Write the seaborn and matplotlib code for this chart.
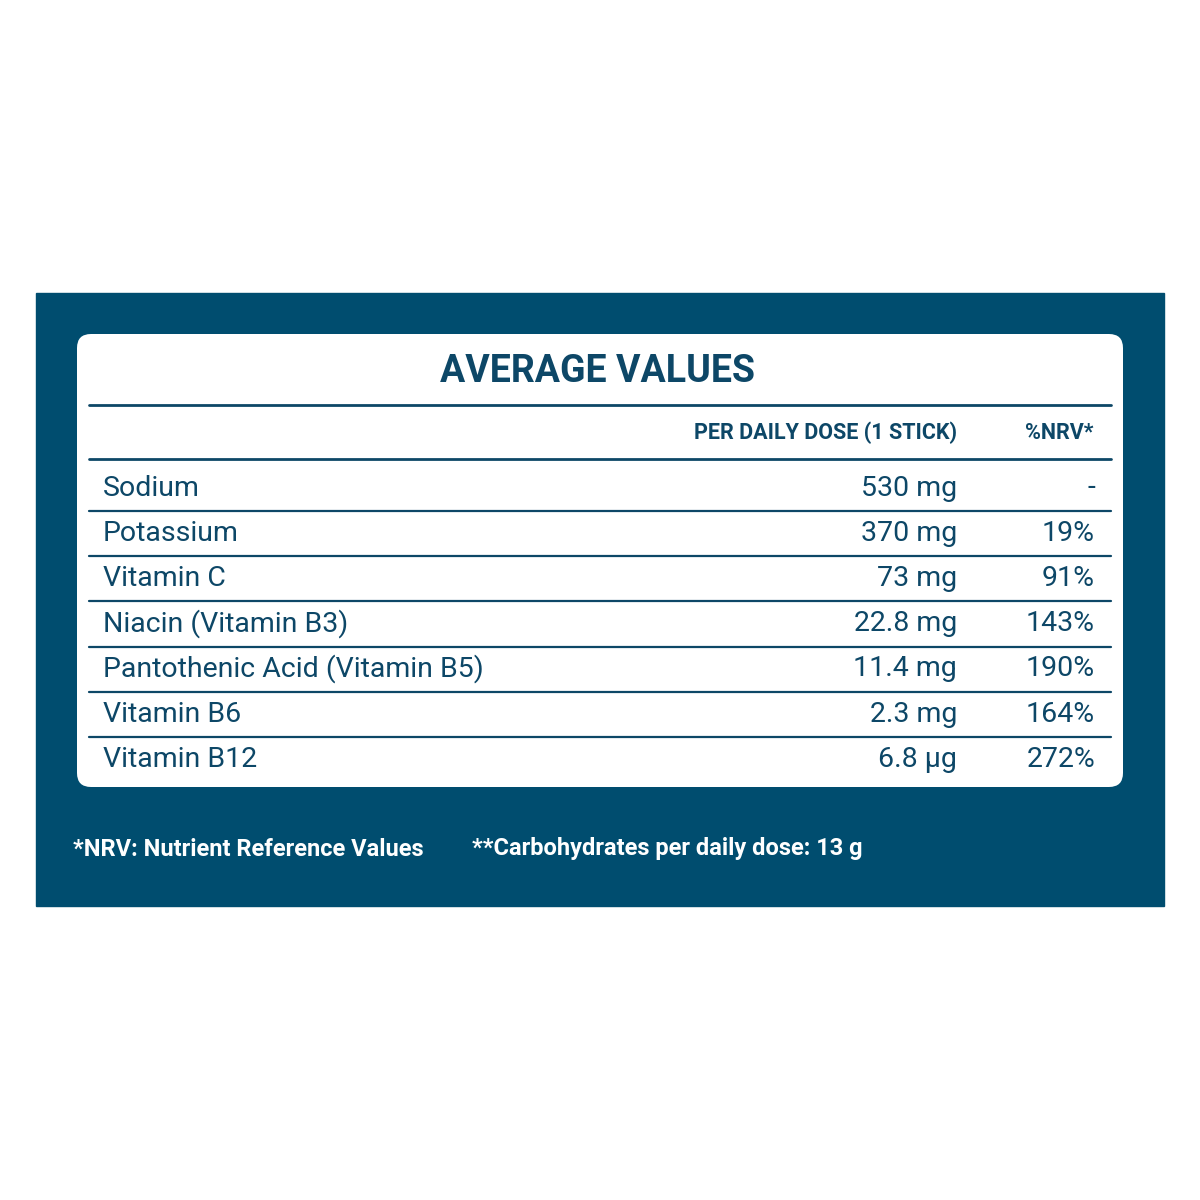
import matplotlib
matplotlib.use("Agg")
import matplotlib.pyplot as plt
import seaborn as sns
from matplotlib.patches import Rectangle, FancyBboxPatch

# Donnees du tableau
nutrients = ["Sodium", "Potassium", "Vitamin C", "Niacin (Vitamin B3)",
             "Pantothenic Acid (Vitamin B5)", "Vitamin B6", "Vitamin B12"]
amounts = ["530 mg", "370 mg", "73 mg", "22.8 mg", "11.4 mg", "2.3 mg", "6.8 µg"]
nrv = ["-", "19%", "91%", "143%", "190%", "164%", "272%"]
title = "AVERAGE VALUES"
headers = ["PER DAILY DOSE (1 STICK)", "%NRV*"]
footnotes = ["*NRV: Nutrient Reference Values", "**Carbohydrates per daily dose: 13 g"]

sns.set_theme(style="white")
plt.rcParams["font.family"] = ["Roboto", "DejaVu Sans"]

navy = "#004d6f"
ink = "#0d4767"

fig = plt.figure(figsize=(12, 12), dpi=100)
ax = fig.add_axes([0, 0, 1, 1])
ax.set_xlim(0, 1200)
ax.set_ylim(1200, 0)
ax.axis("off")

ax.add_patch(Rectangle((36, 293), 1128, 613, color=navy))
ax.add_patch(FancyBboxPatch((77, 334), 1046, 453, boxstyle="round,pad=0,rounding_size=14",
                            facecolor="white", edgecolor="none"))

ax.text(597, 372, title, ha="center", va="center", fontsize=27, fontweight="bold", color=ink)
ax.text(957, 433, headers[0], ha="right", va="center", fontsize=15.5, fontweight="bold", color=ink)
ax.text(1094, 433, headers[1], ha="right", va="center", fontsize=15.5, fontweight="bold", color=ink)

for y in [405, 459]:
    ax.plot([89, 1111], [y, y], color=ink, lw=2)

row_h = 45.2
for i, (n, a, p) in enumerate(zip(nutrients, amounts, nrv)):
    yc = 488 + i * row_h
    ax.text(103, yc, n, ha="left", va="center", fontsize=20.5, color=ink)
    ax.text(957, yc, a, ha="right", va="center", fontsize=20.5, color=ink)
    ax.text(1095, yc, p, ha="right", va="center", fontsize=20.5, color=ink)
    if i < len(nutrients) - 1:
        ax.plot([89, 1111], [yc + 23, yc + 23], color=ink, lw=1.6)

ax.text(73, 849, footnotes[0], ha="left", va="center", fontsize=17, fontweight="bold", color="white")
ax.text(472, 849, footnotes[1], ha="left", va="center", fontsize=17, fontweight="bold", color="white")

fig.savefig("out.png", dpi=100, facecolor="white")
